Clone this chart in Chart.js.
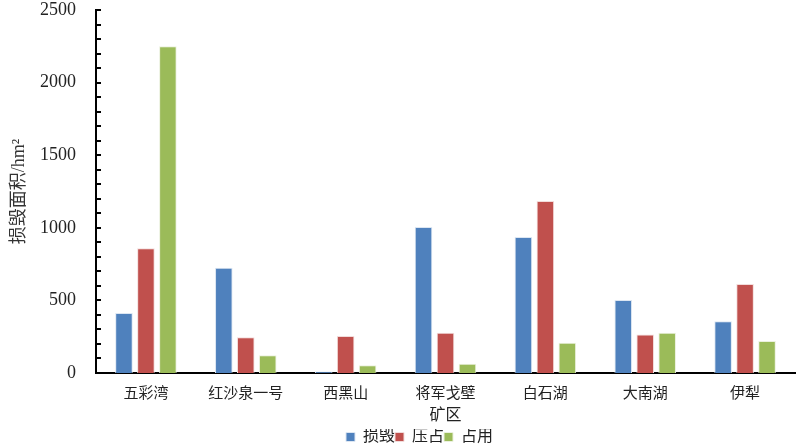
<!DOCTYPE html>
<html><head><meta charset="utf-8">
<script src="https://cdn.jsdelivr.net/npm/chart.js@4/dist/chart.umd.min.js"></script>
<style>html,body{margin:0;padding:0;background:#fff}#wrap{width:800px;height:446px;position:relative}</style>
</head><body><div id="wrap"><canvas id="c" width="800" height="446"></canvas></div>
<script>
const categories = ["五彩湾","红沙泉一号","西黑山","将军戈壁","白石湖","大南湖","伊犁"];
const damaged = [413, 725, 10, 1005, 937, 503, 356];   // 损毁
const pressed = [859, 246, 255, 278, 1185, 266, 613];  // 压占
const occupied = [2250, 122, 53, 64, 209, 278, 220];   // 占用
const seriesNames = ["损毁","压占","占用"];
const yTicks = [0, 500, 1000, 1500, 2000, 2500];

const FONT = "'Liberation Serif','Noto Sans CJK SC',serif";

const innerTicks = {
  id: 'innerTicks',
  afterLayout(chart) {
    // nudge the legend block right to sit where the reference places it
    chart.legend.left += 44;
  },
  afterDraw(chart) {
    const y = chart.scales.y, ctx = chart.ctx;
    const x0 = chart.chartArea.left;
    ctx.save();
    ctx.strokeStyle = '#000';
    ctx.lineWidth = 2;
    for (let v = 0; v <= 2500; v += 100) {
      const py = Math.round(y.getPixelForValue(v));
      ctx.beginPath();
      ctx.moveTo(x0, py);
      ctx.lineTo(x0 + 5, py);
      ctx.stroke();
    }
    ctx.restore();
  }
};

const ch = new Chart(document.getElementById('c'), {
  type: 'bar',
  data: {
    labels: categories,
    datasets: [
      {label: seriesNames[0], data: damaged, backgroundColor: '#4F81BD', borderColor: '#DCE6F2', borderWidth: 1},
      {label: seriesNames[1], data: pressed, backgroundColor: '#C0504D', borderColor: '#F2DCDB', borderWidth: 1},
      {label: seriesNames[2], data: occupied, backgroundColor: '#9BBB59', borderColor: '#EBF1DE', borderWidth: 1}
    ]
  },
  options: {
    responsive: false,
    animation: false,
    devicePixelRatio: 1,
    layout: {autoPadding: false, padding: {top: 10, right: 5, left: 0, bottom: -9}},
    datasets: {bar: {categoryPercentage: 0.66, barPercentage: 0.8}},
    plugins: {
      legend: {
        position: 'bottom',
        labels: {font: {family: FONT, size: 16}, color: '#222', boxWidth: 9, boxHeight: 9, padding: 0}
      },
      tooltip: {enabled: false}
    },
    scales: {
      x: {
        afterFit(scale) { scale.height = 56; },
        grid: {display: false, drawTicks: false},
        border: {color: '#000', width: 2},
        ticks: {font: {family: FONT, size: 15}, color: '#222', padding: 12},
        title: {display: true, text: '矿区', font: {family: FONT, size: 16}, color: '#222', padding: {top: 2, bottom: 4}}
      },
      y: {
        min: 0, max: 2500,
        afterBuildTicks(scale) { scale.ticks = yTicks.map(v => ({value: v})); },
        afterFit(scale) { scale.paddingTop = 0; scale.paddingBottom = 0; scale.width = 96; },
        grid: {display: false, drawTicks: false},
        border: {color: '#000', width: 2},
        ticks: {font: {family: FONT, size: 18}, color: '#222', padding: 20, callback: v => String(v)},
        title: {display: true, text: '损毁面积/hm²', font: {family: FONT, size: 18}, color: '#333', padding: {top: 8, bottom: 0}}
      }
    }
  },
  plugins: [innerTicks]
});
</script></body></html>
